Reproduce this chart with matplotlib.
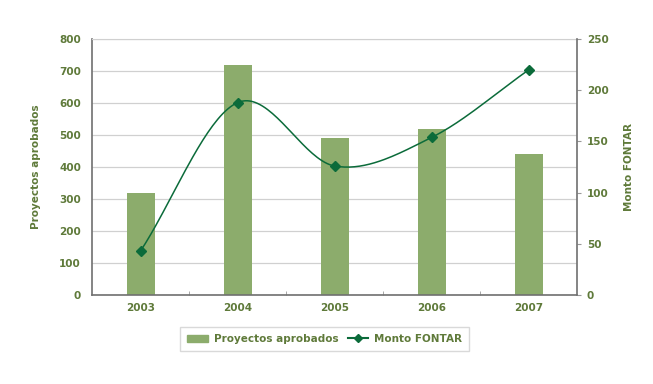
import numpy as np
import matplotlib.pyplot as plt
from matplotlib.lines import Line2D
from matplotlib.patches import Patch

years = ["2003", "2004", "2005", "2006", "2007"]
proyectos = [320, 720, 490, 520, 440]
monto = [43, 188, 126, 154, 220]

bar_color = "#8cac6c"
line_color = "#0b6b3a"
text_color = "#5f7a3a"


def smooth(xs, ys, n=40, t=0.5):
    # catmull-rom style smoothing, like excel's smoothed line
    xs = np.asarray(xs, float)
    ys = np.asarray(ys, float)
    px = np.concatenate([[2 * xs[0] - xs[1]], xs, [2 * xs[-1] - xs[-2]]])
    py = np.concatenate([[2 * ys[0] - ys[1]], ys, [2 * ys[-1] - ys[-2]]])
    out_x, out_y = [], []
    for i in range(1, len(px) - 2):
        s = np.linspace(0, 1, n)
        m1x = t * (px[i + 1] - px[i - 1]); m2x = t * (px[i + 2] - px[i])
        m1y = t * (py[i + 1] - py[i - 1]); m2y = t * (py[i + 2] - py[i])
        h00 = 2 * s**3 - 3 * s**2 + 1
        h10 = s**3 - 2 * s**2 + s
        h01 = -2 * s**3 + 3 * s**2
        h11 = s**3 - s**2
        out_x.extend(h00 * px[i] + h10 * m1x + h01 * px[i + 1] + h11 * m2x)
        out_y.extend(h00 * py[i] + h10 * m1y + h01 * py[i + 1] + h11 * m2y)
    return out_x, out_y


fig = plt.figure(figsize=(6.53, 3.84), dpi=100)
ax = fig.add_axes([0.141, 0.232, 0.743, 0.666])
x = np.arange(len(years))

ax.bar(x, proyectos, width=0.29, color=bar_color, zorder=2)
ax.set_xlim(-0.5, 4.5)
ax.set_ylim(0, 800)
ax.set_yticks(range(0, 801, 100))
ax.yaxis.grid(True, color="#d0d0d0", linewidth=0.9, zorder=0)
ax.set_xticks(x)
ax.set_xticklabels(years)
ax.set_xticks(np.arange(0.5, 4.5, 1), minor=True)
ax.tick_params(axis="x", which="major", length=0, pad=6)
ax.tick_params(axis="x", which="minor", length=3, direction="in", color="#999999")
ax.tick_params(axis="y", length=0, pad=8)
for sp in ["left", "bottom"]:
    ax.spines[sp].set_color("#707070")
    ax.spines[sp].set_linewidth(1.2)
ax.spines["top"].set_color("#d0d0d0")
ax.spines["right"].set_visible(False)
ax.set_ylabel("Proyectos aprobados", color=text_color, fontsize=7.5, fontweight="bold", labelpad=13)

ax2 = ax.twinx()
sx, sy = smooth(x, monto)
ax2.plot(sx, sy, color=line_color, linewidth=1.1, zorder=3)
ax2.plot(x, monto, linestyle="none", marker="D", markersize=5, color=line_color, zorder=4)
ax2.set_ylim(0, 250)
ax2.set_yticks(range(0, 251, 50))
ax2.tick_params(axis="y", length=3, color="#999999", pad=4)
ax2.spines["right"].set_color("#707070")
ax2.spines["right"].set_linewidth(1.2)
for sp in ["left", "top", "bottom"]:
    ax2.spines[sp].set_visible(False)
ax2.set_ylabel("Monto FONTAR", color=text_color, fontsize=7.5, fontweight="bold", labelpad=11)

for a in (ax, ax2):
    for lab in a.get_xticklabels() + a.get_yticklabels():
        lab.set_color(text_color)
        lab.set_fontsize(7.5)
        lab.set_fontweight("bold")

handles = [Patch(color=bar_color, label="Proyectos aprobados"),
           Line2D([], [], color=line_color, marker="D", markersize=4.5, label="Monto FONTAR")]
leg = fig.legend(handles=handles, loc="center", bbox_to_anchor=(0.497, 0.117), ncol=2,
                 frameon=True, fancybox=False, edgecolor="#d0d0d0", fontsize=7.5,
                 handlelength=2.0, handletextpad=0.5, columnspacing=0.9, borderpad=0.7)
for t in leg.get_texts():
    t.set_color(text_color)
    t.set_fontweight("bold")

fig.savefig("out.png", dpi=100)
